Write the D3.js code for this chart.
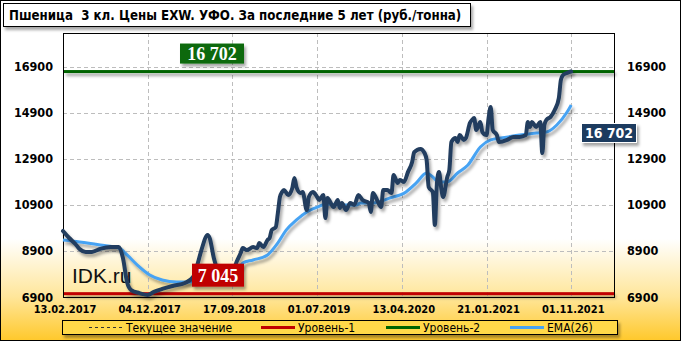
<!DOCTYPE html>
<html>
<head>
<meta charset="utf-8">
<script src="https://cdn.jsdelivr.net/npm/d3@7"></script>
<style>
  body { margin: 0; }
  svg { display: block; }
</style>
</head>
<body>
<svg id="chart" width="681" height="341"></svg>
<script>
const title = "Пшеница  3 кл. Цены EXW. УФО. За последние 5 лет (руб./тонна)";

// week index -> date label on the x axis
const tickWeeks = [0, 41, 82, 123, 164, 205, 246];
const tickLabels = ["13.02.2017", "04.12.2017", "17.09.2018", "01.07.2019", "13.04.2020", "21.01.2021", "01.11.2021"];
const yTicks = [6900, 8900, 10900, 12900, 14900, 16900];

// price, weeks since 13.02.2017
const priceWeeks = [0, 3, 6, 8, 11, 14, 18, 23, 27, 29, 31, 33, 37, 41, 44, 48, 53, 59, 63, 65, 67, 70, 71, 73, 75, 78, 82, 84, 86, 87, 89, 92, 94, 95, 97, 99, 100, 101, 103, 104, 105, 106, 107, 109, 111, 112, 113, 115, 116, 118, 119, 121, 123, 124, 126, 127, 128, 131, 133, 134, 135, 137, 139, 141, 143, 145, 148, 149, 150, 152, 154, 155, 157, 159, 160, 162, 163, 165, 167, 169, 170, 173, 175, 176, 177, 179, 180, 181, 182, 183, 184, 186, 187, 188, 190, 191, 192, 194, 195, 197, 198, 199, 200, 202, 203, 205, 206, 207, 208, 210, 211, 215, 218, 221, 224, 225, 226, 227, 229, 231, 232, 233, 234, 236, 238, 240, 241, 242, 244, 245, 246];
const priceValues = [9770, 9465, 9205, 8990, 8860, 8860, 8990, 9070, 9070, 8600, 7550, 7200, 7070, 6990, 7120, 7250, 7380, 7510, 7770, 8290, 8940, 9600, 9460, 8600, 8070, 7860, 7990, 8420, 8810, 9030, 8940, 9070, 9030, 9250, 9070, 9380, 9460, 9810, 9940, 10550, 11250, 11460, 11550, 11330, 11640, 12070, 11680, 11420, 11460, 10680, 11250, 11460, 11250, 11120, 11330, 10330, 11200, 10810, 11120, 10770, 10990, 10680, 10990, 10900, 11330, 11120, 10990, 10600, 11420, 11120, 10810, 11550, 11550, 11420, 12200, 11860, 11990, 11900, 12340, 12770, 13200, 13340, 13160, 12860, 11680, 11460, 10030, 11860, 12340, 11680, 11250, 12120, 12420, 13640, 13810, 13640, 13940, 13730, 13810, 14470, 14600, 14680, 14160, 14510, 14070, 13940, 14680, 15160, 14160, 13940, 13640, 13730, 13860, 13860, 13940, 14510, 14290, 14510, 14290, 14510, 13160, 14380, 14600, 14730, 15030, 15550, 16340, 16550, 16640, 16680, 16702];

// EMA(26)
const emaWeeks = [0, 8, 18, 27, 31, 36, 42, 48, 55, 61, 70, 78, 85, 87, 92, 99, 104, 108, 113, 118, 123, 128, 134, 142, 144, 150, 158, 166, 171, 176, 179, 182, 186, 191, 196, 202, 207, 212, 221, 229, 234, 239, 244, 246];
const emaValues = [9378, 9290, 9160, 9030, 8730, 8290, 7860, 7640, 7550, 7550, 7680, 7900, 8120, 8380, 8510, 8730, 9250, 9810, 10250, 10600, 10810, 10940, 10900, 10900, 10990, 10990, 11200, 11470, 11860, 12290, 12120, 11900, 11900, 12290, 12640, 13420, 13730, 13810, 13940, 14030, 14070, 14380, 14940, 15250];

const level1 = 7045;
const level2 = 16702;
const current = 16702;

const legendItems = [
  { label: "Текущее значение", color: "#333", dash: "3,3", width: 1 },
  { label: "Уровень-1", color: "#c00000", dash: null, width: 3 },
  { label: "Уровень-2", color: "#006400", dash: null, width: 3 },
  { label: "EMA(26)", color: "#47a3f3", dash: null, width: 3 }
];

const W = 681, H = 341;
const plot = { left: 63, right: 614, top: 33, bottom: 297 };
const sans = "'DejaVu Sans Condensed', 'DejaVu Sans', sans-serif";

const svg = d3.select("#chart");
const defs = svg.append("defs");

// background gradient, white fading into yellow at the bottom
const grad = defs.append("linearGradient")
  .attr("id", "bg").attr("x1", 0).attr("y1", 0).attr("x2", 0).attr("y2", 1);
grad.append("stop").attr("offset", "0%").attr("stop-color", "#ffffff");
grad.append("stop").attr("offset", "70%").attr("stop-color", "#ffffff");
grad.append("stop").attr("offset", "87%").attr("stop-color", "#ffe69a");
grad.append("stop").attr("offset", "100%").attr("stop-color", "#ffc82a");

// drop shadow in user space so flat lines keep it too
const shadow = defs.append("filter").attr("id", "shadow")
  .attr("filterUnits", "userSpaceOnUse")
  .attr("x", 0).attr("y", 0).attr("width", W).attr("height", H);
shadow.append("feDropShadow").attr("dx", 2).attr("dy", 3)
  .attr("stdDeviation", 1.5).attr("flood-color", "#000").attr("flood-opacity", 0.35);

svg.append("rect").attr("width", W).attr("height", H).attr("fill", "url(#bg)");
svg.append("rect").attr("x", 0.5).attr("y", 0.5).attr("width", W - 1).attr("height", H - 1)
  .attr("fill", "none").attr("stroke", "#000");

// scales
const x = d3.scaleLinear().domain([0, 266.7]).range([plot.left, plot.right]);
const y = d3.scaleLinear().domain([6900, 18378]).range([plot.bottom, plot.top]);

// title
svg.append("rect").attr("x", 3.5).attr("y", 3.5).attr("width", 467).attr("height", 23)
  .attr("fill", "#fff").attr("stroke", "#000").attr("filter", "url(#shadow)");
svg.append("text").attr("x", 9).attr("y", 20)
  .style("font-family", sans).style("font-weight", "bold").style("font-size", "13.2px")
  .attr("xml:space", "preserve")
  .text(title);

// gridlines
const grid = svg.append("g").attr("stroke", "#bdbdbd").attr("stroke-dasharray", "4,3");
grid.selectAll("line.h").data(yTicks.slice(1)).enter().append("line")
  .attr("x1", plot.left).attr("x2", plot.right)
  .attr("y1", d => Math.round(y(d)) + 0.5).attr("y2", d => Math.round(y(d)) + 0.5);
grid.selectAll("line.v").data(tickWeeks.slice(1)).enter().append("line")
  .attr("y1", plot.top).attr("y2", plot.bottom)
  .attr("x1", d => Math.round(x(d)) + 0.5).attr("x2", d => Math.round(x(d)) + 0.5);

// plot frame
svg.append("rect").attr("x", plot.left + 0.5).attr("y", plot.top + 0.5)
  .attr("width", plot.right - plot.left).attr("height", plot.bottom - plot.top)
  .attr("fill", "none").attr("stroke", "#000");

// y labels, both sides
const yLab = svg.append("g")
  .style("font-family", sans).style("font-weight", "bold").style("font-size", "12.5px");
yLab.selectAll("text.l").data(yTicks).enter().append("text")
  .attr("x", 53).attr("y", d => y(d) + 4.5).attr("text-anchor", "end").text(d => d);
yLab.selectAll("text.r").data(yTicks).enter().append("text")
  .attr("x", 627).attr("y", d => y(d) + 4.5).text(d => d);

// x labels
svg.append("g")
  .style("font-family", sans).style("font-weight", "bold").style("font-size", "11px")
  .selectAll("text").data(tickWeeks).enter().append("text")
  .attr("x", d => x(d) + 2).attr("y", 313).attr("text-anchor", "middle")
  .text((d, i) => tickLabels[i]);

// watermark
svg.append("text").attr("x", 72).attr("y", 283)
  .style("font-family", "'Liberation Sans', Arial, sans-serif").style("font-size", "21px")
  .attr("fill", "#111").text("IDK.ru");

// level lines
[[level1, "#c00000"], [level2, "#006400"]].forEach(([v, c]) => {
  svg.append("rect")
    .attr("x", plot.left + 1).attr("width", plot.right - plot.left - 1)
    .attr("y", y(v) - 1.5).attr("height", 3)
    .attr("fill", c).attr("filter", "url(#shadow)");
});

// EMA and price
const ema = emaWeeks.map((w, i) => [w, emaValues[i]]);
const price = priceWeeks.map((w, i) => [w, priceValues[i]]);
const line = d3.line().x(d => x(d[0])).y(d => y(d[1])).curve(d3.curveMonotoneX);

svg.append("path").datum(ema)
  .attr("fill", "none").attr("stroke", "#47a3f3").attr("stroke-width", 3)
  .attr("stroke-linejoin", "round").attr("filter", "url(#shadow)")
  .attr("d", line);
svg.append("path").datum(price)
  .attr("fill", "none").attr("stroke", "#223d5e").attr("stroke-width", 4)
  .attr("stroke-linejoin", "round").attr("stroke-linecap", "round").attr("filter", "url(#shadow)")
  .attr("d", line);

// value boxes
function valueBox(cx, cy, w, h, fill, txt, font, size, border) {
  const g = svg.append("g");
  g.append("rect").attr("x", cx).attr("y", cy).attr("width", w).attr("height", h)
    .attr("fill", fill).attr("stroke", border || "none").attr("filter", "url(#shadow)");
  g.append("text").attr("x", cx + w / 2).attr("y", cy + h / 2 + size * 0.36)
    .attr("text-anchor", "middle").attr("fill", "#fff")
    .style("font-family", font).style("font-weight", "bold").style("font-size", size + "px")
    .text(txt);
}
const fmt = v => d3.format(",")(v).replace(",", " ");
const serif = "'Liberation Serif', 'Times New Roman', serif";
valueBox(180, y(level2) - 28, 64, 20, "#0a690a", fmt(level2), serif, 18);
valueBox(192, y(level1) - 30, 52, 23, "#c00000", fmt(level1), serif, 18);
valueBox(581.5, 123.5, 55, 19, "#1b3a5e", fmt(current), sans, 14, "#fff");

// legend
const lg = svg.append("g");
lg.append("rect").attr("x", 62.5).attr("y", 320.5).attr("width", 555).attr("height", 14)
  .attr("fill", "#ffd84a").attr("stroke", "#000").attr("filter", "url(#shadow)");
const legendX = [89, 261, 386, 510];
legendItems.forEach((it, i) => {
  lg.append("line").attr("x1", legendX[i]).attr("x2", legendX[i] + 34)
    .attr("y1", 327.5).attr("y2", 327.5)
    .attr("stroke", it.color).attr("stroke-width", it.width)
    .attr("stroke-dasharray", it.dash);
  lg.append("text").attr("x", legendX[i] + 37).attr("y", 332)
    .style("font-family", sans).style("font-size", "12px").text(it.label);
});
</script>
</body>
</html>
